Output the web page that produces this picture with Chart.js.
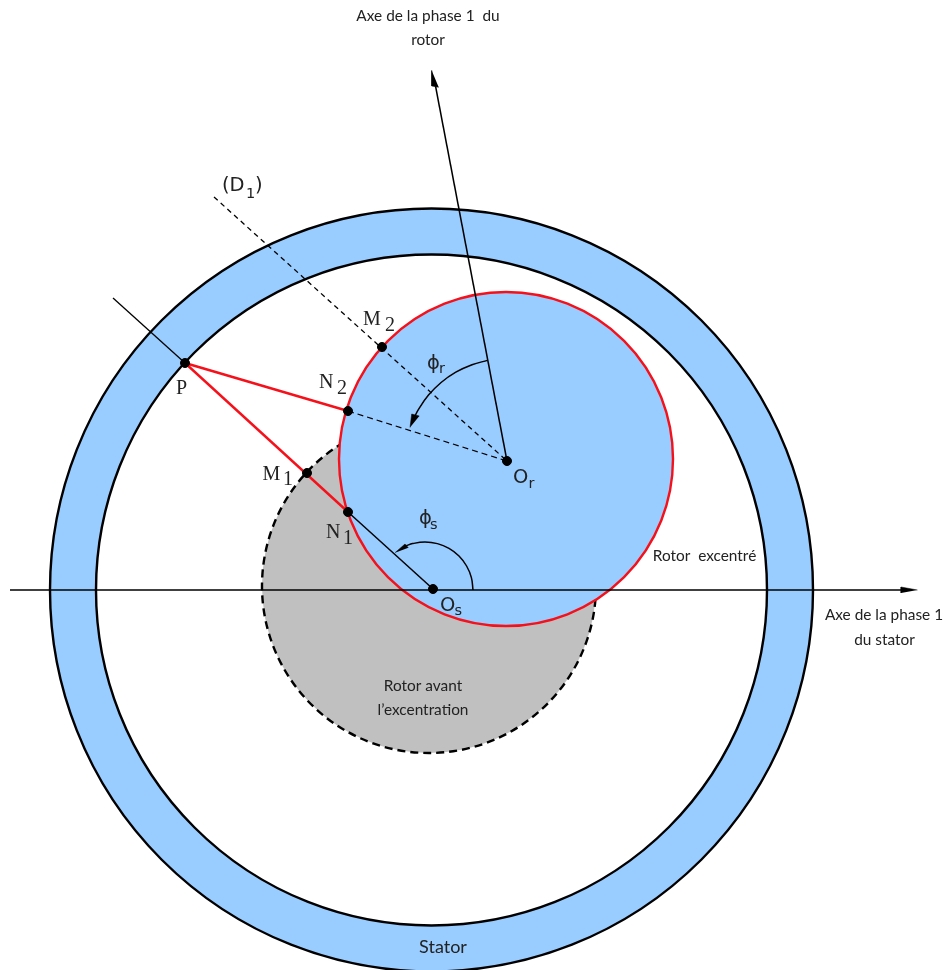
<!DOCTYPE html>
<html>
<head>
<meta charset="utf-8">
<title>Rotor excentré</title>
<script src="https://cdn.jsdelivr.net/npm/chart.js@4"></script>
<style>
  html, body { margin: 0; padding: 0; background: #fff; }
  canvas { display: block; }
</style>
</head>
<body>
<canvas id="schema" width="944" height="970"></canvas>
<script>
const circleX = [431.5, 431.5, 429, 506];
const circleY = [590, 590, 586, 459];
const circleR = [381.5, 335.5, 167, 167];

// named points
const pointNames = ["P", "M2", "N2", "Or", "M1", "N1", "Os"];
const pointX = [185, 382, 348, 507, 307, 348, 433];
const pointY = [363, 347, 411, 461, 473, 512, 589];

// straight lines
const rotorAxis = [[507, 461], [435.5, 86]];
const statorAxis = [[10, 590], [905, 590]];
const lineD1 = [[214, 197], [507, 461]];
const lineOutside = [[113, 298], [185, 363]];
const lineN1Os = [[348, 512], [433, 589]];
const lineN2Or = [[348, 411], [507, 461]];
const redPN1 = [[185, 363], [348, 512]];
const redPN2 = [[185, 363], [348, 411]];

// angle arcs, points
const arcPhiR = [[487.4, 360.4], [472, 364.7], [455.8, 372.2], [441.1, 382.5], [428.5, 395.1], [418.2, 409.8], [414, 418]];
const arcPhiS = [[473, 590], [471.4, 577.6], [466.6, 566], [459, 556], [449, 548.4], [437.4, 543.6], [425, 542], [412.6, 543.6], [406.2, 545.8]];

// arrow heads
const headRotorAxis = [[431.7, 70.5], [431.7, 86], [438.7, 87.3]];
const headStatorAxis = [[917.5, 590], [901, 587], [901, 593]];
const headPhiR = [[410, 427.5], [411.7, 414], [419.3, 416]];
const headPhiS = [[395, 552.7], [405, 544], [408.3, 547.7]];

// text
const captionTexts = ["Axe de la phase 1  du", "rotor", "Rotor  excentré", "Axe de la phase 1", "du stator", "Rotor avant", "l’excentration"];
const captionX = [428, 428, 704.5, 884, 884.5, 423, 423];
const captionY = [21, 45, 561, 620, 645, 691, 715];
const statorText = ["Stator"];
const statorX = [443];
const statorY = [953];

const serifTexts = ["M", "2", "N", "2", "P", "M", "1", "N", "1"];
const serifX = [363, 385, 319, 337, 176, 262.5, 283, 326, 343];
const serifY = [325, 331, 388, 394, 394, 480, 485, 538, 544];

const sansTexts = ["(D", ")", "O", "O", "ϕ", "ϕ"];
const sansX = [222, 255, 513, 440, 427, 419];
const sansY = [191, 191, 483, 611, 369, 524];
const subTexts = ["1", "r", "s", "r", "s"];
const subX = [246, 528.5, 454.5, 439, 430];
const subY = [198, 488, 615, 373, 529];

const BLUE = "#99ccff";
const GREY = "#c0c0c0";
const RED = "#f5101a";

function pts(list) {
  return list.map(p => ({ x: p[0], y: p[1] }));
}

function circle(i, fill, stroke, width, order, dash) {
  return {
    type: "bubble",
    data: [{ x: circleX[i], y: circleY[i], r: circleR[i] }],
    backgroundColor: fill,
    borderColor: stroke,
    borderWidth: width,
    order: order,
    circleDash: dash
  };
}

function line(list, color, width, order, dash) {
  return {
    type: "line",
    data: pts(list),
    borderColor: color,
    borderWidth: width,
    borderDash: dash || [],
    pointRadius: 0,
    fill: false,
    order: order
  };
}

function curve(list) {
  let d = line(list, "#000", 1.5, 4);
  d.tension = 0.4;
  return d;
}

function head(list) {
  return {
    type: "line",
    data: pts(list),
    borderColor: "#000",
    backgroundColor: "#000",
    borderWidth: 0.5,
    pointRadius: 0,
    fill: "shape",
    tension: 0,
    order: 3
  };
}

// points can't dash their border on their own
const circleDashPlugin = {
  id: "circleDash",
  beforeDatasetDraw(chart, args) {
    const ds = chart.data.datasets[args.index];
    if (ds.circleDash) {
      chart.ctx.save();
      chart.ctx.setLineDash(ds.circleDash);
    }
  },
  afterDatasetDraw(chart, args) {
    if (chart.data.datasets[args.index].circleDash) chart.ctx.restore();
  }
};

function drawTexts(chart, texts, xs, ys, font, align) {
  const ctx = chart.ctx;
  ctx.font = font;
  ctx.textAlign = align;
  ctx.textBaseline = "alphabetic";
  texts.forEach((t, i) => {
    ctx.fillText(t, chart.scales.x.getPixelForValue(xs[i]), chart.scales.y.getPixelForValue(ys[i]));
  });
}

const labelPlugin = {
  id: "labels",
  afterDatasetsDraw(chart) {
    const ctx = chart.ctx;
    ctx.save();
    ctx.fillStyle = "#222";
    drawTexts(chart, captionTexts, captionX, captionY, "15.4px Lato", "center");
    drawTexts(chart, statorText, statorX, statorY, "18px Lato", "center");
    drawTexts(chart, serifTexts, serifX, serifY, "20px 'Liberation Serif'", "left");
    drawTexts(chart, sansTexts, sansX, sansY, "19.5px 'DejaVu Sans'", "left");
    drawTexts(chart, subTexts, subX, subY, "14.5px 'DejaVu Sans'", "left");
    ctx.restore();
  }
};

new Chart(document.getElementById("schema"), {
  type: "bubble",
  data: {
    datasets: [
      circle(0, BLUE, "#000", 2.4, 20),
      circle(1, "#fff", "#000", 2.4, 19),
      circle(2, GREY, "#000", 2.4, 18, [8, 5]),
      circle(3, BLUE, RED, 2.4, 17),
      line(statorAxis, "#000", 1.5, 5),
      line(rotorAxis, "#000", 1.5, 5),
      line(lineOutside, "#000", 1.3, 5),
      line(lineN1Os, "#000", 1.5, 5),
      line(lineD1, "#000", 1.3, 5, [5, 4]),
      line(lineN2Or, "#000", 1.3, 5, [6, 4]),
      line(redPN1, RED, 2.4, 4),
      line(redPN2, RED, 2.4, 4),
      curve(arcPhiR),
      curve(arcPhiS),
      head(headRotorAxis),
      head(headStatorAxis),
      head(headPhiR),
      head(headPhiS),
      {
        type: "scatter",
        label: "points",
        labels: pointNames,
        data: pointX.map((x, i) => ({ x: x, y: pointY[i] })),
        backgroundColor: "#000",
        borderColor: "#000",
        pointRadius: 4.5,
        showLine: false,
        order: 1
      }
    ]
  },
  options: {
    responsive: false,
    animation: false,
    events: [],
    // big bubbles would otherwise shrink the chart area
    layout: { padding: 0, autoPadding: false },
    plugins: {
      legend: { display: false },
      tooltip: { enabled: false },
      title: { display: false }
    },
    scales: {
      x: { type: "linear", display: false, min: 0, max: 944 },
      y: { type: "linear", display: false, min: 0, max: 970, reverse: true }
    }
  },
  plugins: [circleDashPlugin, labelPlugin]
});
</script>
</body>
</html>
